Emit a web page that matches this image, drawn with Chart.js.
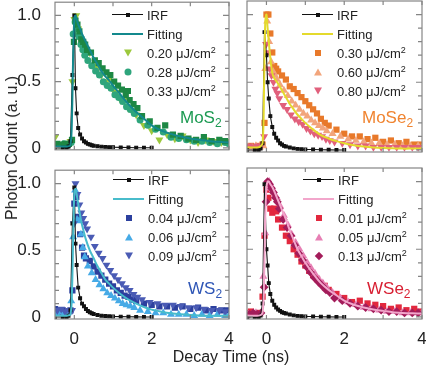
<!DOCTYPE html>
<html>
<head>
<meta charset="utf-8">
<script src="https://cdn.jsdelivr.net/npm/chart.js@4.4.0/dist/chart.umd.min.js"></script>
<style>
  body { margin: 0; background: #fff; }
  #fig { position: relative; width: 426px; height: 367px; overflow: hidden;
         font-family: "Liberation Sans", Arial, sans-serif; color: #222; }
  #fig canvas { position: absolute; }
  .title { position: absolute; font-size: 16px; white-space: nowrap; line-height: 16px; }
  .legend { position: absolute; font-size: 13px; }
  .row { position: relative; height: 19px; line-height: 19px; white-space: nowrap; }
  .sym { position: absolute; left: 0; top: 9.5px; width: 31px; height: 0; }
  .mk { position: absolute; left: 15.5px; top: 0; transform: translate(-50%, -50%); }
  .txt { position: absolute; left: 35px; top: 0; }
  .name { position: absolute; font-size: 17px; line-height: 17px; white-space: nowrap; }
  .name sub { font-size: 12px; vertical-align: -4px; line-height: 0; }
  .txt sup { font-size: 9px; vertical-align: 5px; line-height: 0; }
</style>
</head>
<body>
<div id="fig">
  <canvas id="mos2" width="243" height="180" style="left:0;top:-14px"></canvas>
  <canvas id="mose2" width="203" height="180" style="left:233px;top:-14px"></canvas>
  <canvas id="ws2" width="243" height="213" style="left:0;top:154px"></canvas>
  <canvas id="wse2" width="203" height="213" style="left:233px;top:154px"></canvas>
  <div class="title" style="left:12px;top:148px;transform:translate(-50%,-50%) rotate(-90deg)">Photon Count (a. u.)</div>
  <div class="title" style="left:231px;top:357px;transform:translate(-50%,-50%)">Decay Time (ns)</div>
</div>
<script>
// time axes (ns)
const fitTime = [-0.5, -0.2, -0.1, -0.06, -0.03, 0, 0.03, 0.06, 0.1, 0.15, 0.2, 0.3, 0.4, 0.5, 0.6, 0.7, 0.8, 0.9, 1.0, 1.2, 1.4, 1.6, 1.8, 2.0, 2.25, 2.5, 2.75, 3.0, 3.25, 3.5, 3.75, 4.0];
const irfTime = [-0.5, -0.3, -0.2, -0.15, -0.1, -0.05, 0, 0.03, 0.06, 0.1, 0.15, 0.2, 0.25, 0.3, 0.35, 0.4, 0.45, 0.5, 0.6, 0.7, 0.8, 0.9, 1.0, 1.2, 1.4, 1.6, 1.8, 2.0];
const timeA = [-0.5, -0.4, -0.3, -0.2, -0.1, -0.05, 0, 0.05, 0.1, 0.15, 0.2, 0.25, 0.3, 0.4, 0.5, 0.6, 0.7, 0.8, 0.9, 1.0, 1.1, 1.2, 1.3, 1.4, 1.5, 1.6, 1.8, 2.0, 2.2, 2.4, 2.6, 2.8, 3.0, 3.2, 3.4, 3.6, 3.8, 3.95];
const timeB = [-0.47, -0.37, -0.27, -0.17, -0.08, -0.03, 0.02, 0.07, 0.12, 0.17, 0.22, 0.27, 0.35, 0.45, 0.55, 0.65, 0.75, 0.85, 0.95, 1.05, 1.15, 1.25, 1.35, 1.45, 1.55, 1.7, 1.9, 2.1, 2.3, 2.5, 2.7, 2.9, 3.1, 3.3, 3.5, 3.7, 3.9, 4.0];
const timeC = [-0.44, -0.34, -0.24, -0.14, -0.06, -0.01, 0.03, 0.08, 0.13, 0.18, 0.23, 0.28, 0.33, 0.43, 0.53, 0.63, 0.73, 0.83, 0.93, 1.03, 1.13, 1.23, 1.33, 1.43, 1.53, 1.63, 1.75, 1.95, 2.15, 2.35, 2.55, 2.75, 2.95, 3.15, 3.35, 3.55, 3.75, 3.9];

// ticks
const xTickValues = [0, 1, 2, 3, 4];
const xLabelValues = [0, 2, 4];
const yTickValues = [0, 0.1, 0.2, 0.3, 0.4, 0.5, 0.6, 0.7, 0.8, 0.9, 1.0];
const yLabelValues = [0, 0.5, 1.0];

// MoS2
const mos2Fluence = ['0.20', '0.28', '0.33'];
const mos2Irf = [0, 0, 0, 0.01, 0.05, 0.55, 1.0, 0.45, 0.26, 0.15, 0.1, 0.07, 0.05, 0.04, 0.03, 0.025, 0.02, 0.016, 0.012, 0.009, 0.007, 0.005, 0.004, 0.003, 0.002, 0.001, 0, 0];
const mos2Fit = [0.01, 0.01, 0.02, 0.25, 0.7, 0.98, 1.0, 0.97, 0.93, 0.9, 0.86, 0.8, 0.74, 0.68, 0.63, 0.58, 0.54, 0.51, 0.47, 0.4, 0.33, 0.27, 0.22, 0.17, 0.13, 0.105, 0.085, 0.07, 0.06, 0.05, 0.045, 0.04];
const mos2Low = [0.08, 0.03, 0.02, 0.03, 0.05, 0.5, 0.97, 1.0, 0.9, 0.82, 0.76, 0.78, 0.7, 0.72, 0.62, 0.6, 0.55, 0.5, 0.52, 0.44, 0.42, 0.36, 0.37, 0.3, 0.28, 0.25, 0.17, 0.13, 0.06, 0.1, 0.07, 0.09, 0.06, 0.04, 0.06, 0.05, 0.04, 0.05];
const mos2Mid = [0.02, 0.02, 0.03, 0.02, 0.04, 0.86, 0.95, 0.9, 0.84, 0.78, 0.74, 0.7, 0.66, 0.62, 0.58, 0.55, 0.5, 0.47, 0.45, 0.4, 0.38, 0.35, 0.31, 0.29, 0.26, 0.21, 0.17, 0.14, 0.12, 0.08, 0.07, 0.06, 0.05, 0.05, 0.04, 0.03, 0.04, 0.03];
const mos2High = [0.03, 0.02, 0.03, 0.03, 0.06, 0.8, 0.96, 0.93, 0.88, 0.82, 0.8, 0.78, 0.74, 0.72, 0.66, 0.64, 0.6, 0.57, 0.55, 0.5, 0.47, 0.44, 0.4, 0.36, 0.33, 0.3, 0.24, 0.2, 0.15, 0.17, 0.1, 0.09, 0.07, 0.06, 0.08, 0.05, 0.06, 0.05];

// MoSe2
const mose2Fluence = ['0.30', '0.60', '0.80'];
const mose2Irf = [0, 0, 0, 0.01, 0.05, 0.87, 0.7, 0.5, 0.38, 0.25, 0.17, 0.12, 0.09, 0.07, 0.05, 0.04, 0.03, 0.025, 0.018, 0.012, 0.008, 0.005, 0.004, 0.003, 0.002, 0.001, 0, 0];
const mose2Fit = [0.02, 0.02, 0.05, 0.5, 0.95, 1.0, 0.9, 0.8, 0.68, 0.57, 0.53, 0.49, 0.44, 0.39, 0.34, 0.3, 0.26, 0.23, 0.2, 0.15, 0.11, 0.085, 0.065, 0.05, 0.035, 0.025, 0.018, 0.014, 0.012, 0.01, 0.01, 0.01];
const mose2Low = [0.02, 0.03, 0.02, 0.03, 0.04, 0.2, 1.0, 1.0, 0.86, 0.72, 0.62, 0.6, 0.58, 0.55, 0.52, 0.47, 0.45, 0.42, 0.39, 0.36, 0.33, 0.3, 0.27, 0.23, 0.2, 0.18, 0.15, 0.12, 0.1, 0.1, 0.08, 0.09, 0.06, 0.07, 0.05, 0.06, 0.04, 0.04];
const mose2Mid = [0.02, 0.02, 0.03, 0.02, 0.03, 0.6, 0.95, 0.8, 0.65, 0.58, 0.55, 0.52, 0.48, 0.44, 0.4, 0.36, 0.33, 0.3, 0.27, 0.25, 0.22, 0.2, 0.18, 0.16, 0.14, 0.12, 0.1, 0.08, 0.07, 0.06, 0.05, 0.05, 0.04, 0.04, 0.03, 0.03, 0.03, 0.02];
const mose2High = [0.03, 0.02, 0.03, 0.03, 0.1, 0.78, 0.72, 0.6, 0.55, 0.5, 0.45, 0.42, 0.38, 0.33, 0.3, 0.26, 0.23, 0.21, 0.19, 0.16, 0.14, 0.12, 0.11, 0.1, 0.08, 0.07, 0.06, 0.05, 0.04, 0.03, 0.03, 0.02, 0.02, 0.02, 0.02, 0.02, 0.02, 0.02];

// WS2
const ws2Fluence = ['0.04', '0.06', '0.09'];
const ws2Irf = [0, 0, 0, 0.01, 0.05, 0.7, 0.97, 0.55, 0.39, 0.22, 0.14, 0.1, 0.08, 0.06, 0.045, 0.035, 0.028, 0.022, 0.015, 0.01, 0.007, 0.005, 0.004, 0.003, 0.002, 0.001, 0, 0];
const ws2Fit = [0.01, 0.01, 0.02, 0.2, 0.6, 0.93, 0.96, 0.92, 0.85, 0.76, 0.69, 0.58, 0.5, 0.44, 0.38, 0.33, 0.28, 0.25, 0.22, 0.17, 0.13, 0.1, 0.075, 0.055, 0.04, 0.028, 0.02, 0.015, 0.012, 0.01, 0.01, 0.01];
const ws2Low = [0.06, 0.04, 0.05, 0.03, 0.05, 0.2, 0.85, 0.9, 0.75, 0.62, 0.52, 0.46, 0.44, 0.42, 0.38, 0.34, 0.31, 0.28, 0.25, 0.23, 0.2, 0.18, 0.16, 0.15, 0.13, 0.12, 0.1, 0.09, 0.08, 0.08, 0.07, 0.08, 0.06, 0.07, 0.05, 0.06, 0.05, 0.05];
const ws2Mid = [0.03, 0.04, 0.02, 0.03, 0.12, 0.6, 0.95, 0.73, 0.72, 0.62, 0.52, 0.45, 0.38, 0.33, 0.28, 0.24, 0.21, 0.18, 0.16, 0.14, 0.12, 0.1, 0.09, 0.08, 0.07, 0.05, 0.04, 0.03, 0.03, 0.02, 0.02, 0.02, 0.01, 0.02, 0.01, 0.02, 0.01, 0.01];
const ws2High = [0.05, 0.06, 0.04, 0.05, 0.05, 0.7, 1.0, 0.92, 0.84, 0.78, 0.74, 0.7, 0.66, 0.6, 0.53, 0.48, 0.44, 0.39, 0.35, 0.31, 0.28, 0.25, 0.22, 0.2, 0.17, 0.15, 0.13, 0.11, 0.1, 0.09, 0.09, 0.08, 0.07, 0.07, 0.06, 0.05, 0.05, 0.04];

// WSe2
const wse2Fluence = ['0.01', '0.05', '0.13'];
const wse2Irf = [0, 0, 0, 0.01, 0.1, 0.98, 0.5, 0.38, 0.25, 0.17, 0.12, 0.09, 0.07, 0.055, 0.045, 0.035, 0.03, 0.025, 0.018, 0.012, 0.008, 0.005, 0.004, 0.003, 0.002, 0.001, 0, 0];
const wse2Fit = [0.01, 0.01, 0.03, 0.3, 0.75, 0.96, 1.0, 1.0, 0.98, 0.96, 0.93, 0.86, 0.79, 0.72, 0.64, 0.57, 0.5, 0.45, 0.4, 0.32, 0.25, 0.2, 0.16, 0.12, 0.09, 0.07, 0.055, 0.045, 0.035, 0.03, 0.027, 0.025];
const wse2Low = [0.03, 0.04, 0.02, 0.03, 0.15, 0.6, 0.94, 0.88, 0.8, 0.77, 0.8, 0.78, 0.72, 0.66, 0.6, 0.56, 0.5, 0.46, 0.41, 0.38, 0.34, 0.31, 0.28, 0.25, 0.23, 0.2, 0.17, 0.14, 0.11, 0.12, 0.1, 0.09, 0.08, 0.06, 0.07, 0.05, 0.06, 0.04];
const wse2Mid = [0.02, 0.02, 0.03, 0.02, 0.3, 0.62, 0.95, 1.0, 0.97, 0.94, 0.9, 0.88, 0.82, 0.75, 0.68, 0.61, 0.55, 0.5, 0.45, 0.4, 0.36, 0.32, 0.28, 0.25, 0.22, 0.18, 0.14, 0.11, 0.09, 0.07, 0.06, 0.05, 0.04, 0.04, 0.03, 0.03, 0.03, 0.03];
const wse2High = [0.02, 0.03, 0.02, 0.03, 0.22, 0.85, 1.0, 0.98, 0.95, 0.92, 0.88, 0.85, 0.8, 0.72, 0.66, 0.6, 0.53, 0.47, 0.42, 0.37, 0.33, 0.29, 0.26, 0.23, 0.2, 0.18, 0.14, 0.12, 0.1, 0.08, 0.07, 0.06, 0.05, 0.04, 0.04, 0.03, 0.03, 0.03];

Chart.defaults.font.family = '"Liberation Sans", Arial, sans-serif';
Chart.defaults.color = '#222';

const toPoints = (ts, vs) => ts.map((t, i) => ({ x: t, y: vs[i] }));

const shapes = {
  rect: { pointStyle: 'rect', rotation: 0, r: 4.4 },
  circle: { pointStyle: 'circle', rotation: 0, r: 3.5 },
  up: { pointStyle: 'triangle', rotation: 0, r: 4.6 },
  down: { pointStyle: 'triangle', rotation: 180, r: 4.6 },
  diamond: { pointStyle: 'rectRot', rotation: 0, r: 4.4 }
};

// draws the box and inward tick marks from the scales
const framePlugin = {
  id: 'frame',
  afterDatasetsDraw(chart) {
    const { ctx, chartArea: a, scales: { x, y } } = chart;
    ctx.save();
    ctx.strokeStyle = '#858585';
    ctx.lineWidth = 1.2;
    ctx.strokeRect(a.left, a.top, a.right - a.left, a.bottom - a.top);
    ctx.beginPath();
    x.ticks.forEach(t => {
      const px = x.getPixelForValue(t.value);
      ctx.moveTo(px, a.bottom); ctx.lineTo(px, a.bottom - 4);
      ctx.moveTo(px, a.top); ctx.lineTo(px, a.top + 4);
    });
    y.ticks.forEach(t => {
      const py = y.getPixelForValue(t.value);
      const len = yLabelValues.includes(t.value) ? 6 : 4;
      ctx.moveTo(a.left, py); ctx.lineTo(a.left + len, py);
      ctx.moveTo(a.right, py); ctx.lineTo(a.right - len, py);
    });
    ctx.stroke();
    ctx.restore();
  }
};

// canvases leave >= 14px round each plot box so Chart.js keeps the box where asked
const panels = [
  { id: 'mos2', showX: false, showY: true, yw: 55, xh: 14, pad: { left: 0, right: 14, top: 15, bottom: 0 },
    irf: mos2Irf, fit: mos2Fit, fitColor: '#13898d', fluence: mos2Fluence,
    series: [mos2Low, mos2Mid, mos2High], colors: ['#9cc83c', '#2ea57c', '#1d8844'], marks: ['down', 'circle', 'rect'],
    name: 'MoS', nameColor: '#1c9a52', nameX: 180, nameY: 109, legX: 112, legY: 5.5 },
  { id: 'mose2', showX: false, showY: false, yw: 14, xh: 14, pad: { left: 0, right: 14, top: 15, bottom: 0 },
    irf: mose2Irf, fit: mose2Fit, fitColor: '#e4da2c', fluence: mose2Fluence,
    series: [mose2Low, mose2Mid, mose2High], colors: ['#e8792a', '#f2a57c', '#e1607c'], marks: ['rect', 'up', 'down'],
    name: 'MoSe', nameColor: '#f08430', nameX: 362, nameY: 109, legX: 302, legY: 5.5 },
  { id: 'ws2', showX: true, showY: true, yw: 55, xh: 48, pad: { left: 0, right: 14, top: 14, bottom: 0 },
    irf: ws2Irf, fit: ws2Fit, fitColor: '#48bccb', fluence: ws2Fluence,
    series: [ws2Low, ws2Mid, ws2High], colors: ['#2c409e', '#46aae6', '#4a5bb4'], marks: ['rect', 'up', 'down'],
    name: 'WS', nameColor: '#2f56b6', nameX: 188, nameY: 280, legX: 113, legY: 170.5 },
  { id: 'wse2', showX: true, showY: false, yw: 14, xh: 48, pad: { left: 0, right: 14, top: 14, bottom: 0 },
    irf: wse2Irf, fit: wse2Fit, fitColor: '#f2a6cb', fluence: wse2Fluence,
    series: [wse2Low, wse2Mid, wse2High], colors: ['#e2283e', '#e77fb4', '#a31c5a'], marks: ['rect', 'up', 'diamond'],
    name: 'WSe', nameColor: '#d81f32', nameX: 367, nameY: 280, legX: 303, legY: 170.5 }
];

const scatterTimes = [timeA, timeB, timeC];

panels.forEach(p => {
  const datasets = [
    { label: 'IRF', data: toPoints(irfTime, p.irf), showLine: true, borderColor: '#111', backgroundColor: '#111',
      borderWidth: 1.1, pointStyle: 'rect', pointRadius: 2, order: 1 },
    { label: 'Fitting', data: toPoints(fitTime, p.fit), showLine: true, borderColor: p.fitColor,
      borderWidth: 2, pointRadius: 0, tension: 0.3, order: 0 }
  ];
  p.series.forEach((vals, i) => {
    const s = shapes[p.marks[i]];
    datasets.push({
      label: p.fluence[i] + ' μJ/cm²', data: toPoints(scatterTimes[i], vals),
      backgroundColor: p.colors[i], borderColor: p.colors[i], borderWidth: 0,
      pointStyle: s.pointStyle, rotation: s.rotation, pointRadius: s.r, order: 4 - i
    });
  });

  new Chart(document.getElementById(p.id), {
    type: 'scatter',
    data: { datasets },
    options: {
      responsive: false, animation: false, devicePixelRatio: 1,
      layout: { padding: p.pad },
      plugins: { legend: { display: false }, tooltip: { enabled: false } },
      scales: {
        x: {
          type: 'linear', min: -0.5, max: 4,
          afterBuildTicks: s => { s.ticks = xTickValues.map(v => ({ value: v })); },
          afterFit: s => { s.height = p.xh; },
          grid: { display: false }, border: { display: false },
          ticks: { display: p.showX, autoSkip: false, maxRotation: 0, padding: 2,
                   font: { size: 17 }, color: '#222',
                   callback: v => (xLabelValues.includes(v) ? String(v) : '') }
        },
        y: {
          min: -0.015, max: 1.1,
          afterBuildTicks: s => { s.ticks = yTickValues.map(v => ({ value: v })); },
          afterFit: s => { s.width = p.yw; },
          grid: { display: false }, border: { display: false },
          ticks: { display: p.showY, autoSkip: false, padding: 6, font: { size: 17 }, color: '#222',
                   callback: v => (yLabelValues.includes(v) ? (v === 0 ? '0' : v.toFixed(1)) : '') }
        }
      }
    },
    plugins: [framePlugin]
  });

  // legend inside the plot
  const fig = document.getElementById('fig');
  const leg = document.createElement('div');
  leg.className = 'legend';
  leg.style.left = p.legX + 'px';
  leg.style.top = p.legY + 'px';
  datasets.forEach((ds, i) => {
    const row = document.createElement('div');
    row.className = 'row';
    const sym = document.createElement('span');
    sym.className = 'sym';
    if (i < 2) {
      sym.style.borderTop = (i === 0 ? '1.2px solid #111' : '2px solid ' + p.fitColor);
      sym.style.marginTop = (i === 0 ? '-0.6px' : '-1px');
      if (i === 0) {
        const m = document.createElement('span');
        m.className = 'mk';
        m.style.cssText += 'width:4px;height:4px;background:#111;top:-0.6px';
        sym.appendChild(m);
      }
    } else {
      const k = p.marks[i - 2], c = p.colors[i - 2];
      const m = document.createElement('span');
      m.className = 'mk';
      if (k === 'rect') m.style.cssText += `width:6px;height:6px;background:${c}`;
      if (k === 'circle') m.style.cssText += `width:7px;height:7px;border-radius:50%;background:${c}`;
      if (k === 'diamond') m.style.cssText += `width:6px;height:6px;background:${c};transform:translate(-50%,-50%) rotate(45deg)`;
      if (k === 'up') m.style.cssText += `width:0;height:0;border-left:4px solid transparent;border-right:4px solid transparent;border-bottom:7px solid ${c}`;
      if (k === 'down') m.style.cssText += `width:0;height:0;border-left:4px solid transparent;border-right:4px solid transparent;border-top:7px solid ${c}`;
      sym.appendChild(m);
    }
    const txt = document.createElement('span');
    txt.className = 'txt';
    txt.innerHTML = i < 2 ? ds.label : p.fluence[i - 2] + ' μJ/cm<sup>2</sup>';
    row.appendChild(sym);
    row.appendChild(txt);
    leg.appendChild(row);
  });
  fig.appendChild(leg);

  const nm = document.createElement('div');
  nm.className = 'name';
  nm.style.left = p.nameX + 'px';
  nm.style.top = p.nameY + 'px';
  nm.style.color = p.nameColor;
  nm.innerHTML = p.name + '<sub>2</sub>';
  fig.appendChild(nm);
});
</script>
</body>
</html>
